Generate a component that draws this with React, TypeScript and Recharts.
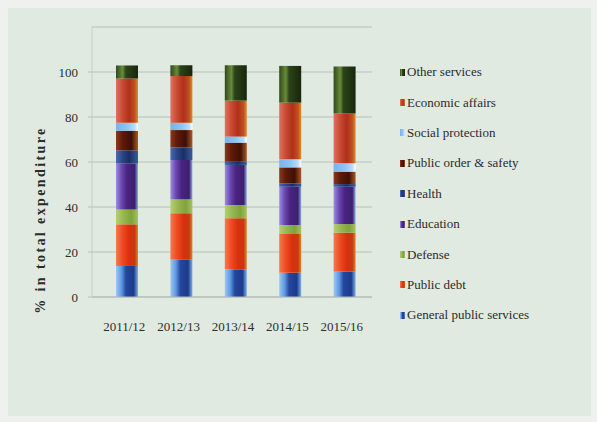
import React from 'react';
import { BarChart, Bar, XAxis, YAxis, CartesianGrid, Legend, Label } from 'recharts';

const categories = ['2011/12', '2012/13', '2013/14', '2014/15', '2015/16'];
const generalPublicServices = [13.8, 16.7, 12.3, 10.8, 11.3];
const publicDebt = [18.5, 20.5, 22.7, 17.2, 17.3];
const defense = [6.6, 6.2, 5.9, 4.0, 3.8];
const education = [20.4, 17.5, 17.8, 17.0, 16.6];
const health = [5.9, 5.6, 1.4, 1.5, 1.2];
const publicOrderSafety = [8.7, 7.7, 8.5, 7.1, 5.5];
const socialProtection = [3.5, 3.3, 2.7, 3.6, 3.7];
const economicAffairs = [19.7, 20.7, 16.0, 25.2, 22.2];
const otherServices = [5.8, 4.8, 15.7, 16.3, 20.8];
const yTicks = [0, 20, 40, 60, 80, 100];

type Series = { key: string; name: string; values: number[]; stops: [number, string][] };

const series: Series[] = [
  { key: 'gps', name: 'General public services', values: generalPublicServices,
    stops: [[0, '#9cc8f4'], [0.25, '#5f98e2'], [0.45, '#24489e'], [0.8, '#1c3a8a'], [1, '#7db0ea']] },
  { key: 'debt', name: 'Public debt', values: publicDebt,
    stops: [[0, '#f47a50'], [0.3, '#ee4a22'], [0.6, '#d8300e'], [0.85, '#c83812'], [1, '#d88a2a']] },
  { key: 'defense', name: 'Defense', values: defense,
    stops: [[0, '#b4d070'], [0.35, '#96b650'], [0.7, '#7ea43a'], [1, '#a8c064']] },
  { key: 'education', name: 'Education', values: education,
    stops: [[0, '#9c8ee0'], [0.25, '#6a48b0'], [0.5, '#4a2480'], [0.85, '#3c2070'], [1, '#8eaee6']] },
  { key: 'health', name: 'Health', values: health,
    stops: [[0, '#4a6ab0'], [0.3, '#2a4688'], [0.6, '#1a2e64'], [1, '#3a5a9c']] },
  { key: 'order', name: 'Public order & safety', values: publicOrderSafety,
    stops: [[0, '#8a3a1e'], [0.3, '#5e1a0a'], [0.7, '#3e1006'], [1, '#a85a24']] },
  { key: 'social', name: 'Social protection', values: socialProtection,
    stops: [[0, '#78b4ec'], [0.5, '#8cc4f2'], [0.85, '#b8dcf8'], [1, '#ffffff']] },
  { key: 'econ', name: 'Economic affairs', values: economicAffairs,
    stops: [[0, '#e07060'], [0.3, '#c84a32'], [0.6, '#b0301a'], [0.85, '#c05020'], [1, '#d89030']] },
  { key: 'other', name: 'Other services', values: otherServices,
    stops: [[0, '#2e4a1a'], [0.3, '#6a8a3a'], [0.45, '#2c4418'], [1, '#18260c']] },
];

const data = categories.map((c, i) => {
  const row: Record<string, string | number> = { category: c };
  series.forEach((s) => { row[s.key] = s.values[i]; });
  return row;
});

const serif = '"Liberation Serif", "Times New Roman", serif';

const renderLegend = () => (
  <div style={{ fontFamily: serif, fontSize: 13, color: '#2b2b2b' }}>
    {[...series].reverse().map((s) => (
      <div key={s.key} style={{ height: 30.4, display: 'flex', alignItems: 'center', whiteSpace: 'nowrap' }}>
        <span style={{
          display: 'inline-block', width: 5, height: 7, marginRight: 2,
          background: `linear-gradient(to right, ${s.stops.map(([o, c]) => `${c} ${o * 100}%`).join(', ')})`,
        }} />
        <span>{s.name}</span>
      </div>
    ))}
  </div>
);

export default function App() {
  return (
    <div style={{ position: 'fixed', left: 0, top: 0, width: 597, height: 422, background: '#eef1ed', overflow: 'hidden' }}>
      <div style={{ position: 'absolute', left: 8, top: 8, right: 6, bottom: 6, background: '#e0eae1' }} />
      <div style={{ position: 'absolute', left: 0, top: 0 }}>
        <BarChart width={597} height={422} data={data}
          margin={{ top: 27, right: 225, bottom: 95, left: 0 }}>
          <defs>
            {series.map((s) => (
              <linearGradient key={s.key} id={`grad-${s.key}`} x1="0" y1="0" x2="1" y2="0">
                {s.stops.map(([o, c], j) => (
                  <stop key={j} offset={o} stopColor={c} />
                ))}
              </linearGradient>
            ))}
          </defs>
          <CartesianGrid vertical={false} stroke="#b9c1b9" strokeWidth={1} />
          <XAxis dataKey="category" height={30} axisLine={{ stroke: '#b3bbb3' }} tickLine={false}
            padding={{ left: 8, right: 0 }} tickMargin={19} interval={0}
            tick={{ fill: '#2e2e2e', fontSize: 13, fontFamily: serif, dx: -3 }} />
          <YAxis width={92} domain={[0, 120]} ticks={yTicks} interval={0}
            axisLine={{ stroke: '#c6cdc6' }} tickLine={{ stroke: '#b9c1b9' }} tickSize={4} tickMargin={10}
            tick={{ fill: '#2e2e2e', fontSize: 13, fontFamily: serif }}>
            <Label content={() => (
              <text x={45} y={220} transform="rotate(-90 45 220)" textAnchor="middle"
                fontFamily={serif} fontWeight="bold" fontSize={14} letterSpacing={2.4} fill="#2b2b2b">
                % in total expenditure
              </text>
            )} />
          </YAxis>
          <Legend layout="vertical" align="center" verticalAlign="middle" content={renderLegend}
            wrapperStyle={{ left: 400, top: 57, width: 190, height: 280 }} />
          {series.map((s) => (
            <Bar key={s.key} dataKey={s.key} name={s.name} stackId="a" barSize={22}
              fill={`url(#grad-${s.key})`} isAnimationActive={false} />
          ))}
        </BarChart>
      </div>
    </div>
  );
}
